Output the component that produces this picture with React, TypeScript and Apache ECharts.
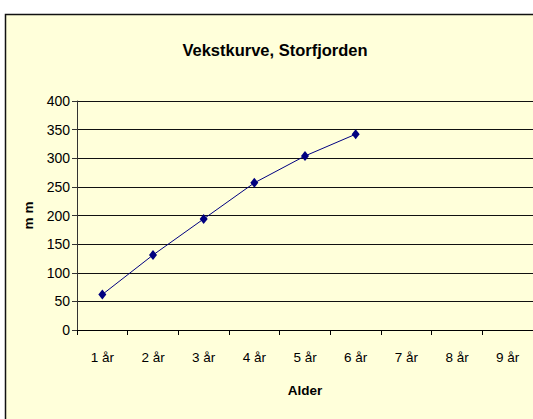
import React, { useEffect, useRef } from "react";
import * as echarts from "echarts";

const categories = ["1 år", "2 år", "3 år", "4 år", "5 år", "6 år", "7 år", "8 år", "9 år"];
const lengths = [62, 131, 194, 257, 304, 342];
const yTicks = { min: 0, max: 400, interval: 50 };
const title = "Vekstkurve, Storfjorden";
const xName = "Alder";
const yName = "m m";

export default function App() {
  const ref = useRef<HTMLDivElement>(null);
  useEffect(() => {
    const chart = echarts.init(ref.current!, null, { renderer: "svg" });
    const font = "'Liberation Sans', Arial, sans-serif";
    chart.setOption({
      animation: false,
      backgroundColor: "#ffffff",
      graphic: [
        {
          type: "rect",
          z: -10,
          silent: true,
          shape: { x: 5.5, y: 14.5, width: 640, height: 500 },
          style: { fill: "#FFFFDA", stroke: "#111", lineWidth: 1.5 },
        },
      ],
      title: {
        text: title,
        left: 270,
        textAlign: "center",
        top: 36,
        textStyle: { fontFamily: font, fontSize: 16.5, fontWeight: "bold", color: "#000" },
      },
      grid: { left: 77, top: 101, right: -1, bottom: 89 },
      xAxis: {
        type: "category",
        data: categories,
        boundaryGap: true,
        name: xName,
        nameLocation: "middle",
        nameGap: 53,
        nameTextStyle: { fontFamily: font, fontSize: 13.5, fontWeight: "bold", color: "#000" },
        axisLine: { lineStyle: { color: "#000", width: 1 } },
        axisTick: { show: true, length: 5, inside: false, lineStyle: { color: "#000" } },
        axisLabel: { fontFamily: font, fontSize: 13.5, color: "#000", margin: 20, interval: 0 },
        splitLine: { show: false },
      },
      yAxis: {
        type: "value",
        min: yTicks.min,
        max: yTicks.max,
        interval: yTicks.interval,
        name: yName,
        nameLocation: "middle",
        nameGap: 37,
        nameRotate: 90,
        nameTextStyle: { fontFamily: font, fontSize: 13.5, fontWeight: "bold", color: "#000" },
        axisLine: { show: true, lineStyle: { color: "#333", width: 1 } },
        axisTick: { show: true, length: 5, lineStyle: { color: "#333" } },
        axisLabel: { fontFamily: font, fontSize: 14, color: "#000", margin: 7 },
        splitLine: { show: true, lineStyle: { color: "#111", width: 1 } },
      },
      series: [
        {
          type: "line",
          data: lengths,
          symbol: "diamond",
          symbolSize: [8, 10],
          itemStyle: { color: "#000080" },
          lineStyle: { color: "#000080", width: 1 },
        },
      ],
    });
    return () => chart.dispose();
  }, []);
  return (
    <div
      ref={ref}
      style={{ position: "fixed", left: 0, top: 0, width: 533, height: 419 }}
    />
  );
}
